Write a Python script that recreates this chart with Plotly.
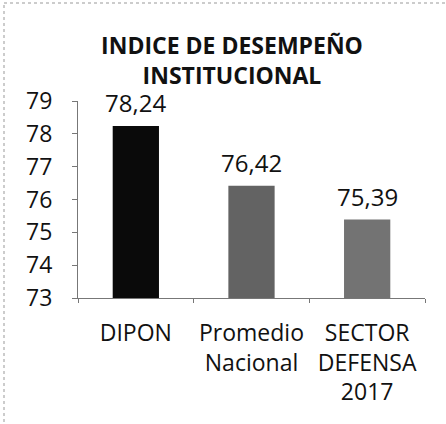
import plotly.graph_objects as go

categories = ["DIPON", "Promedio<br>Nacional", "SECTOR<br>DEFENSA<br>2017"]
values = [78.24, 76.42, 75.39]
bar_colors = ["#0a0a0a", "#636363", "#737373"]
y_ticks = [73, 74, 75, 76, 77, 78, 79]
title_text = "<b>INDICE DE DESEMPEÑO<br>INSTITUCIONAL</b>"

FONT = "Open Sans, Liberation Sans, sans-serif"
W, H = 446, 424
L, R, T, B = 78, 21, 101, 126
PW, PH = W - L - R, H - T - B

fig = go.Figure()
fig.add_trace(go.Bar(
    x=categories, y=values, marker=dict(color=bar_colors, line=dict(width=0)),
    width=0.4, showlegend=False, hoverinfo="skip",
))

for c, v in zip(categories, values):
    fig.add_annotation(
        x=c, y=v, text=f"{v:.2f}".replace(".", ","), showarrow=False,
        yanchor="bottom", yshift=5, font=dict(family=FONT, size=24, color="#111"),
    )

fig.update_layout(
    width=W, height=H,
    margin=dict(l=L, r=R, t=T, b=B, autoexpand=False),
    paper_bgcolor="white", plot_bgcolor="white",
    title=dict(text=title_text, x=232 / W, xanchor="center", y=1 - 54 / H, yanchor="middle",
               font=dict(family=FONT, size=23, color="#111")),
    font=dict(family=FONT, size=23, color="#111"),
)
fig.update_yaxes(
    range=[73, 79], tickvals=y_ticks, showgrid=False, zeroline=False,
    showline=True, linecolor="#777", linewidth=1, automargin=False,
    ticks="outside", ticklen=5, tickcolor="#777",
    ticklabelstandoff=15,
    tickfont=dict(family=FONT, size=23, color="#111"),
)
fig.update_xaxes(
    showgrid=False, showline=True, linecolor="#777", linewidth=1, automargin=False,
    ticks="outside", ticklen=4, tickcolor="#777", tickson="boundaries",
    tickangle=0, ticklabelstandoff=14,
    tickfont=dict(family=FONT, size=23, color="#111"),
)
# chart frame (left and top border)
fx = (4 - L) / PW
fy = (H - B - 3) / PH
fig.add_shape(type="line", xref="paper", yref="paper", x0=fx, x1=fx, y0=(B - H) / PH, y1=fy,
              line=dict(color="#999", width=1, dash="dot"))
fig.add_shape(type="line", xref="paper", yref="paper", x0=fx, x1=(W - L) / PW, y0=fy, y1=fy,
              line=dict(color="#999", width=1, dash="dot"))

fig.write_html("out.html", config={"displayModeBar": False},
               post_script="document.body.style.margin='0';")
